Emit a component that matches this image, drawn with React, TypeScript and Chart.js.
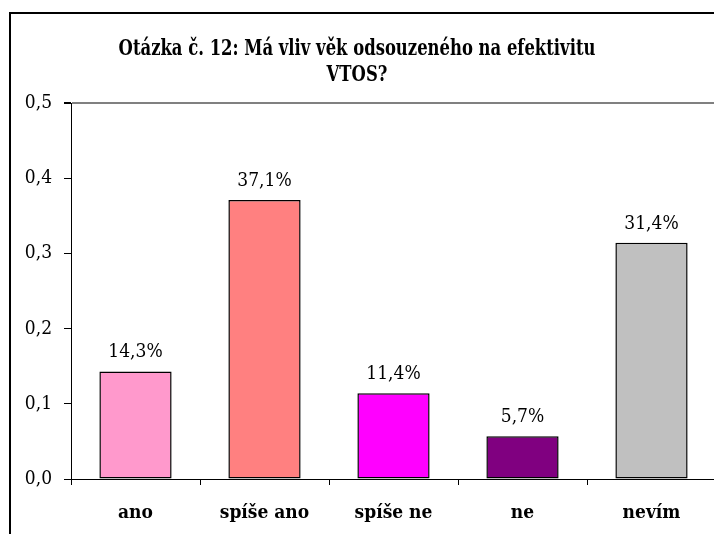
import React, { useEffect, useRef } from "react";
import { Chart, registerables } from "chart.js";

Chart.register(...registerables);

const categories = ["ano", "spíše ano", "spíše ne", "ne", "nevím"];
const values = [0.143, 0.371, 0.114, 0.057, 0.314];
const valueLabels = ["14,3%", "37,1%", "11,4%", "5,7%", "31,4%"];
const barColors = ["#FF99CC", "#FF8080", "#FF00FF", "#800080", "#C0C0C0"];
const titleLines = ["Otázka č. 12: Má vliv věk odsouzeného na efektivitu", "VTOS?"];
const yTickMax = 0.5;

const SERIF = "'DejaVu Serif Condensed', 'Liberation Serif', serif";

const decorPlugin = {
  id: "decor",
  beforeDraw(chart: any) {
    const ctx = chart.ctx;
    ctx.save();
    ctx.fillStyle = "#ffffff";
    ctx.fillRect(0, 0, chart.width, chart.height);
    ctx.strokeStyle = "#000000";
    ctx.lineWidth = 2;
    ctx.beginPath();
    ctx.moveTo(10, chart.height + 5);
    ctx.lineTo(10, 13);
    ctx.lineTo(chart.width + 5, 13);
    ctx.stroke();
    ctx.fillStyle = "#000000";
    ctx.font = `bold 22px ${SERIF}`;
    ctx.textAlign = "center";
    ctx.textBaseline = "alphabetic";
    const sx = 0.83;
    ctx.translate(357, 0);
    ctx.scale(sx, 1);
    ctx.fillText(titleLines[0], 0, 55);
    ctx.fillText(titleLines[1], 0, 81);
    ctx.restore();
  },
  afterDatasetsDraw(chart: any) {
    const ctx = chart.ctx;
    const meta = chart.getDatasetMeta(0);
    ctx.save();
    ctx.fillStyle = "#000000";
    ctx.font = `19px ${SERIF}`;
    ctx.textAlign = "center";
    ctx.textBaseline = "middle";
    meta.data.forEach((bar: any, i: number) => {
      ctx.fillText(valueLabels[i], bar.x, bar.y - 19);
    });
    ctx.restore();
  },
};

export default function App() {
  const ref = useRef<HTMLCanvasElement>(null);
  useEffect(() => {
    if (!ref.current) return;
    const chart = new Chart(ref.current, {
      type: "bar",
      data: {
        labels: categories,
        datasets: [
          {
            data: values,
            backgroundColor: barColors,
            borderColor: "#000000",
            borderWidth: 1.5,
            borderSkipped: false,
            barPercentage: 0.56,
            categoryPercentage: 1,
          },
        ],
      },
      options: {
        animation: false,
        responsive: false,
        devicePixelRatio: 1,
        layout: { padding: { top: 103, left: 0, right: 4, bottom: 0 } },
        plugins: {
          legend: { display: false },
          title: { display: false },
          tooltip: { enabled: false },
        },
        scales: {
          x: {
            grid: {
              offset: true,
              drawOnChartArea: false,
              drawTicks: true,
              tickLength: 6,
              color: "#000000",
            },
            border: { display: true, color: "#000000", width: 1 },
            ticks: {
              color: "#000000",
              font: { family: SERIF, size: 19, weight: "bold" },
              padding: 17,
              maxRotation: 0,
            },
            afterFit(scale: any) {
              scale.height = 55;
            },
          },
          y: {
            min: 0,
            max: yTickMax,
            ticks: {
              stepSize: 0.1,
              color: "#000000",
              font: { family: SERIF, size: 19 },
              padding: 12,
              callback: (v: any) => Number(v).toFixed(1).replace(".", ","),
            },
            grid: {
              drawTicks: true,
              tickLength: 7,
              color: (c: any) => (c.tick && c.tick.value === yTickMax ? "#808080" : "rgba(0,0,0,0)"),
              tickColor: "#000000",
              lineWidth: (c: any) => (c.tick && c.tick.value === yTickMax ? 2 : 1),
            },
            border: { display: true, color: "#000000", width: 1 },
            afterFit(scale: any) {
              scale.width = 71;
            },
          },
        },
      },
      plugins: [decorPlugin],
    });
    return () => chart.destroy();
  }, []);
  return (
    <div style={{ position: "fixed", left: 0, top: 0, width: 714, height: 534, overflow: "hidden", background: "#fff" }}>
      <canvas ref={ref} width={720} height={534} style={{ width: 720, height: 534, display: "block" }} />
    </div>
  );
}
